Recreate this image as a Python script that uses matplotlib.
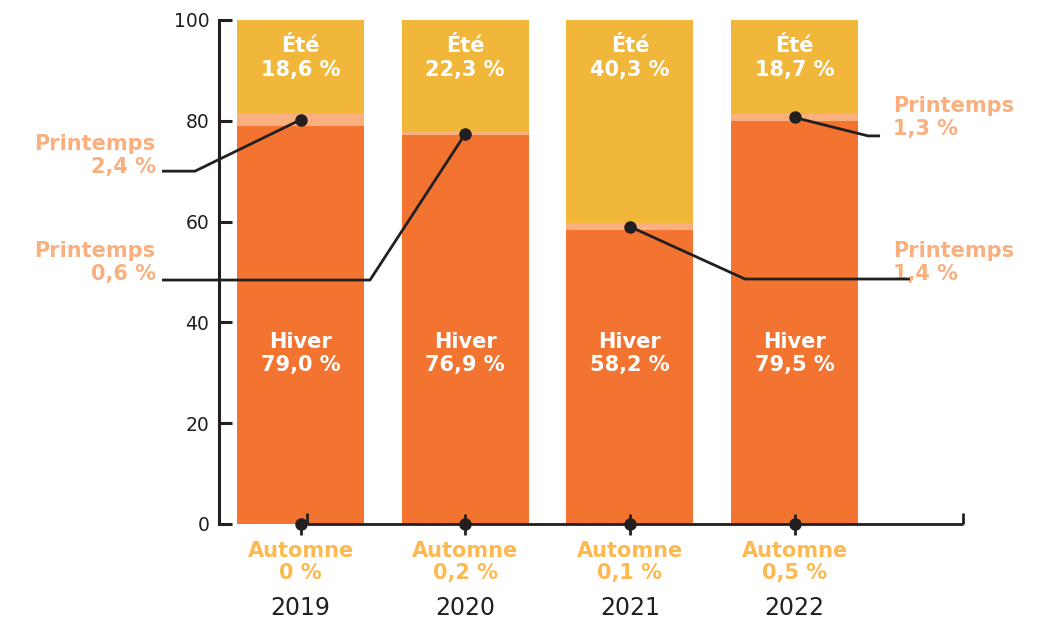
import matplotlib
matplotlib.use("Agg")
import matplotlib.pyplot as plt

# Répartition saisonnière (%)
years = ["2019", "2020", "2021", "2022"]
automne = [0.0, 0.2, 0.1, 0.5]
hiver = [79.0, 76.9, 58.2, 79.5]
printemps = [2.4, 0.6, 1.4, 1.3]
ete = [18.6, 22.3, 40.3, 18.7]

automne_lbl = ["0 %", "0,2 %", "0,1 %", "0,5 %"]
hiver_lbl = ["79,0 %", "76,9 %", "58,2 %", "79,5 %"]
printemps_lbl = ["2,4 %", "0,6 %", "1,4 %", "1,3 %"]
ete_lbl = ["18,6 %", "22,3 %", "40,3 %", "18,7 %"]

C_HIVER = "#F37330"
C_PRINT = "#F9B07E"
C_ETE = "#F0B73A"
C_AUT = "#FDB94F"
C_LINE = "#231F20"

plt.rcParams['font.family'] = ['DejaVu Sans']

fig = plt.figure(figsize=(10.4, 6.22), dpi=100)
ax = fig.add_axes([219 / 1040, 0.1576, 0.7593, 0.8103])
ax.set_xlim(-0.495, 4.3)
ax.set_ylim(0, 100)

x = list(range(len(years)))
w = 0.77
b1 = [a + h for a, h in zip(automne, hiver)]
b2 = [b + p for b, p in zip(b1, printemps)]
# l'automne est trop fin pour être visible : même teinte que l'hiver
ax.bar(x, automne, w, color=C_HIVER, zorder=1)
ax.bar(x, hiver, w, bottom=automne, color=C_HIVER, zorder=1)
ax.bar(x, printemps, w, bottom=b1, color=C_PRINT, zorder=1)
ax.bar(x, ete, w, bottom=b2, color=C_ETE, zorder=1)

# axes
for s in ["top", "right", "bottom"]:
    ax.spines[s].set_visible(False)
ax.spines["left"].set_linewidth(2.2)
ax.spines["left"].set_color(C_LINE)
ax.set_xticks([])
ax.set_yticks([0, 20, 40, 60, 80, 100])
ax.tick_params(axis="y", direction="in", length=9, width=2.2, color=C_LINE,
               labelsize=13.5, labelcolor=C_LINE, pad=7)

lk = dict(color=C_LINE, lw=2.0, clip_on=False, zorder=3, solid_capstyle="butt")
# ligne de base
ax.plot([0.039, 4.02], [0, 0], **lk)
ax.plot([0.039, 0.039], [0, 2.2], **lk)
ax.plot([4.02, 4.02], [0, 2.2], **lk)
for i in x:
    top = 2.0 if i > 0 else 0
    ax.plot([i, i], [-2.2, top], **lk)
    ax.plot(i, 0, "o", color=C_LINE, ms=8, clip_on=False, zorder=4)

# Printemps : repères et lignes de rappel
mid = [b1[i] + printemps[i] / 2 for i in x]
leaders = [
    [(-0.841, 70.0), (-0.641, 70.0)],
    [(-0.841, 48.4), (0.422, 48.4)],
    [(3.70, 48.6), (2.699, 48.6)],
    [(3.519, 77.0), (3.446, 77.0)],
]
for i in x:
    pts = leaders[i] + [(i, mid[i])]
    ax.plot([p[0] for p in pts], [p[1] for p in pts], **lk)
    ax.plot(i, mid[i], "o", color=C_LINE, ms=8, clip_on=False, zorder=4)

fs = 15
lbl_pos = [(-0.88, 75.4, "right"), (-0.88, 54.2, "right"),
           (3.597, 54.2, "left"), (3.597, 82.9, "left")]
for i, (lx, ly, ha) in enumerate(lbl_pos):
    ax.text(lx, ly, "Printemps", ha=ha, va="center", fontsize=fs,
            fontweight="bold", color=C_PRINT, clip_on=False)
    ax.text(lx, ly - 4.6, printemps_lbl[i], ha=ha, va="center", fontsize=fs,
            fontweight="bold", color=C_PRINT, clip_on=False, zorder=2)

for i in x:
    ax.text(i, 94.8, "Été", ha="center", va="center", fontsize=fs,
            fontweight="bold", color="white")
    ax.text(i, 90.0, ete_lbl[i], ha="center", va="center", fontsize=fs,
            fontweight="bold", color="white")
    ax.text(i, 36.1, "Hiver", ha="center", va="center", fontsize=fs,
            fontweight="bold", color="white")
    ax.text(i, 31.5, hiver_lbl[i], ha="center", va="center", fontsize=fs,
            fontweight="bold", color="white")
    ax.text(i, -5.3, "Automne", ha="center", va="center", fontsize=fs,
            fontweight="bold", color=C_AUT, clip_on=False)
    ax.text(i, -9.8, automne_lbl[i], ha="center", va="center", fontsize=fs,
            fontweight="bold", color=C_AUT, clip_on=False)
    ax.text(i, -16.6, years[i], ha="center", va="center", fontsize=17,
            color=C_LINE, clip_on=False)

fig.savefig("out.png", dpi=100)
